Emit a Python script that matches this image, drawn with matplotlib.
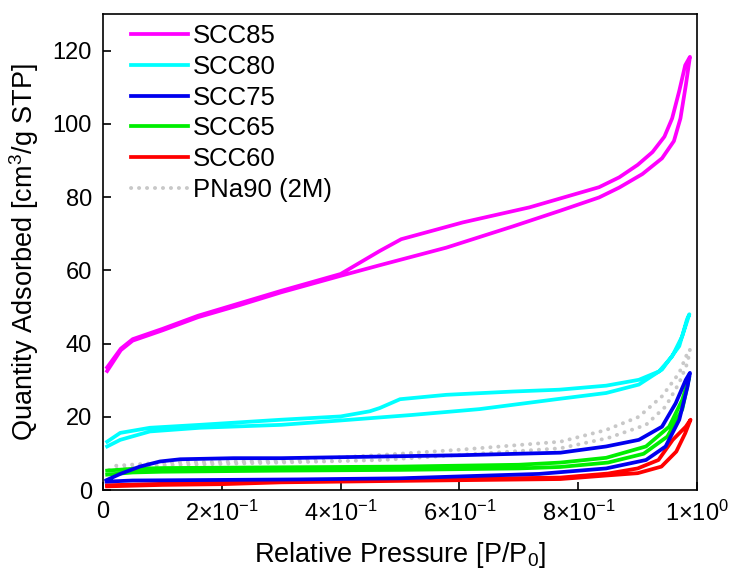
import numpy as np
import matplotlib
matplotlib.use("Agg")
import matplotlib.pyplot as plt
from matplotlib.lines import Line2D

plt.rcParams['font.family'] = ['Liberation Sans', 'DejaVu Sans']
plt.rcParams['mathtext.fontset'] = 'custom'
plt.rcParams['mathtext.rm'] = 'Liberation Sans'
plt.rcParams['mathtext.it'] = 'Liberation Sans:italic'

# SCC85 (adsorption up, desorption down)
scc85_ads_x = [0.007, 0.03, 0.05, 0.1, 0.16, 0.23, 0.3, 0.4, 0.466, 0.578, 0.69, 0.77, 0.835, 0.869, 0.908, 0.941, 0.961, 0.972, 0.981, 0.988]
scc85_ads_y = [32.5, 38.2, 40.8, 43.6, 47.2, 50.5, 54.0, 58.5, 61.4, 66.2, 72.0, 76.3, 79.9, 82.6, 86.3, 90.6, 95.3, 101.5, 110.5, 118.3]
scc85_des_x = [0.988, 0.98, 0.97, 0.958, 0.945, 0.925, 0.9, 0.869, 0.835, 0.718, 0.606, 0.502, 0.466, 0.4, 0.3, 0.23, 0.16, 0.1, 0.05, 0.03, 0.007]
scc85_des_y = [118.3, 116.0, 109.0, 101.5, 96.5, 92.3, 88.8, 85.4, 82.7, 77.2, 73.1, 68.5, 65.3, 59.0, 54.4, 51.0, 47.6, 44.0, 41.2, 38.6, 33.5]

# SCC80
scc80_ads_x = [0.007, 0.029, 0.079, 0.163, 0.3, 0.4, 0.52, 0.634, 0.768, 0.847, 0.902, 0.941, 0.97, 0.983, 0.987]
scc80_ads_y = [11.9, 13.7, 16.0, 17.0, 17.8, 19.0, 20.5, 22.1, 24.9, 26.5, 28.8, 32.9, 39.3, 46.6, 48.0]
scc80_des_x = [0.987, 0.975, 0.958, 0.936, 0.902, 0.847, 0.768, 0.69, 0.578, 0.5, 0.466, 0.449, 0.4, 0.3, 0.163, 0.079, 0.029, 0.007]
scc80_des_y = [48.0, 42.0, 36.5, 32.4, 30.1, 28.5, 27.4, 26.9, 26.0, 24.8, 22.4, 21.5, 20.1, 19.2, 17.8, 17.0, 15.6, 13.2]

# SCC75
scc75_ads_x = [0.006, 0.05, 0.33, 0.5, 0.734, 0.847, 0.914, 0.947, 0.97, 0.984, 0.988]
scc75_ads_y = [2.3, 2.6, 2.9, 3.2, 4.4, 5.9, 8.2, 11.9, 19.2, 28.3, 32.0]
scc75_des_x = [0.988, 0.981, 0.964, 0.941, 0.902, 0.847, 0.77, 0.6, 0.3, 0.22, 0.13, 0.096, 0.062, 0.029, 0.006]
scc75_des_y = [32.0, 30.1, 23.7, 17.3, 13.7, 11.9, 10.2, 9.5, 8.7, 8.7, 8.4, 7.8, 6.4, 4.4, 2.7]

# SCC65
scc65_ads_x = [0.007, 0.05, 0.1, 0.3, 0.5, 0.7, 0.77, 0.85, 0.91, 0.95, 0.975, 0.987]
scc65_ads_y = [4.2, 4.8, 5.0, 5.3, 5.5, 5.9, 6.3, 7.5, 9.9, 14.6, 22.0, 31.0]
scc65_des_x = [0.987, 0.975, 0.953, 0.914, 0.847, 0.77, 0.7, 0.5, 0.3, 0.1, 0.05, 0.007]
scc65_des_y = [31.0, 24.6, 17.3, 11.9, 8.8, 7.5, 6.9, 6.4, 6.2, 6.0, 5.8, 5.3]

# SCC60
scc60_ads_x = [0.007, 0.1, 0.2, 0.3, 0.5, 0.77, 0.85, 0.9, 0.94, 0.965, 0.98, 0.989]
scc60_ads_y = [1.0, 1.4, 1.6, 2.1, 2.5, 3.0, 4.0, 4.6, 6.4, 10.5, 15.5, 19.2]
scc60_des_x = [0.989, 0.981, 0.959, 0.935, 0.9, 0.85, 0.77, 0.5, 0.3, 0.1, 0.007]
scc60_des_y = [19.2, 17.3, 13.7, 8.2, 5.9, 4.5, 3.4, 2.8, 2.4, 1.7, 1.3]

# PNa90 (2M)
pna90_ads_x = [0.01, 0.1, 0.3, 0.47, 0.77, 0.85, 0.914, 0.947, 0.97, 0.984, 0.988]
pna90_ads_y = [5.5, 6.8, 7.5, 8.2, 11.4, 14.2, 17.8, 22.8, 29.3, 34.8, 38.4]
pna90_des_x = [0.988, 0.984, 0.97, 0.941, 0.902, 0.847, 0.77, 0.6, 0.47, 0.3, 0.1, 0.01]
pna90_des_y = [38.4, 37.5, 32.0, 25.6, 20.0, 16.4, 13.2, 11.0, 9.6, 8.0, 7.5, 6.5]

labels = ['SCC85', 'SCC80', 'SCC75', 'SCC65', 'SCC60', 'PNa90 (2M)']
colors = ['#ff00ff', '#00ffff', '#0000ee', '#00ee00', '#ff0000', '#c8c8c8']

fig = plt.figure(figsize=(7.33, 5.74), dpi=100)
ax = fig.add_axes([0.1405, 0.1463, 0.8105, 0.8293])

lw = 2.7
dots = (0, (0.05, 2.0))
# gray dotted reference first, then the others on top
ax.plot(pna90_ads_x + pna90_des_x, pna90_ads_y + pna90_des_y, color=colors[5],
        lw=2.8, ls=dots, dash_capstyle='round')
ax.plot(scc60_ads_x + scc60_des_x, scc60_ads_y + scc60_des_y, color=colors[4], lw=lw)
ax.plot(scc65_ads_x + scc65_des_x, scc65_ads_y + scc65_des_y, color=colors[3], lw=lw)
ax.plot(scc75_ads_x + scc75_des_x, scc75_ads_y + scc75_des_y, color=colors[2], lw=lw)
ax.plot(scc80_ads_x + scc80_des_x, scc80_ads_y + scc80_des_y, color=colors[1], lw=lw)
ax.plot(scc85_ads_x + scc85_des_x, scc85_ads_y + scc85_des_y, color=colors[0], lw=lw)

handles = [Line2D([], [], color=c, lw=lw) for c in colors[:5]]
handles.append(Line2D([], [], color=colors[5], lw=2.8, ls=dots, dash_capstyle='round'))
ax.legend(handles, labels, loc='upper left', frameon=False, fontsize=18.5,
          handlelength=2.2, handletextpad=0.2, labelspacing=0.26,
          borderaxespad=0.0, bbox_to_anchor=(0.03, 1.0))

ax.set_xlim(0, 1.0)
ax.set_ylim(0, 130)
ax.set_xticks([0, 0.2, 0.4, 0.6, 0.8, 1.0])
ax.set_xticklabels(['0', r'$2{\times}10^{-1}$', r'$4{\times}10^{-1}$',
                    r'$6{\times}10^{-1}$', r'$8{\times}10^{-1}$', r'$1{\times}10^{0}$'])
ax.set_yticks([0, 20, 40, 60, 80, 100, 120])
ax.tick_params(direction='in', length=6, width=1.2, labelsize=17, pad=8)
for s in ax.spines.values():
    s.set_linewidth(1.2)

ax.set_xlabel(r'Relative Pressure [P/P$_0$]', fontsize=19.5, labelpad=10)
ax.set_ylabel(r'Quantity Adsorbed [cm$^3$/g STP]', fontsize=19.5, labelpad=8)

fig.savefig('out.png', dpi=100)
